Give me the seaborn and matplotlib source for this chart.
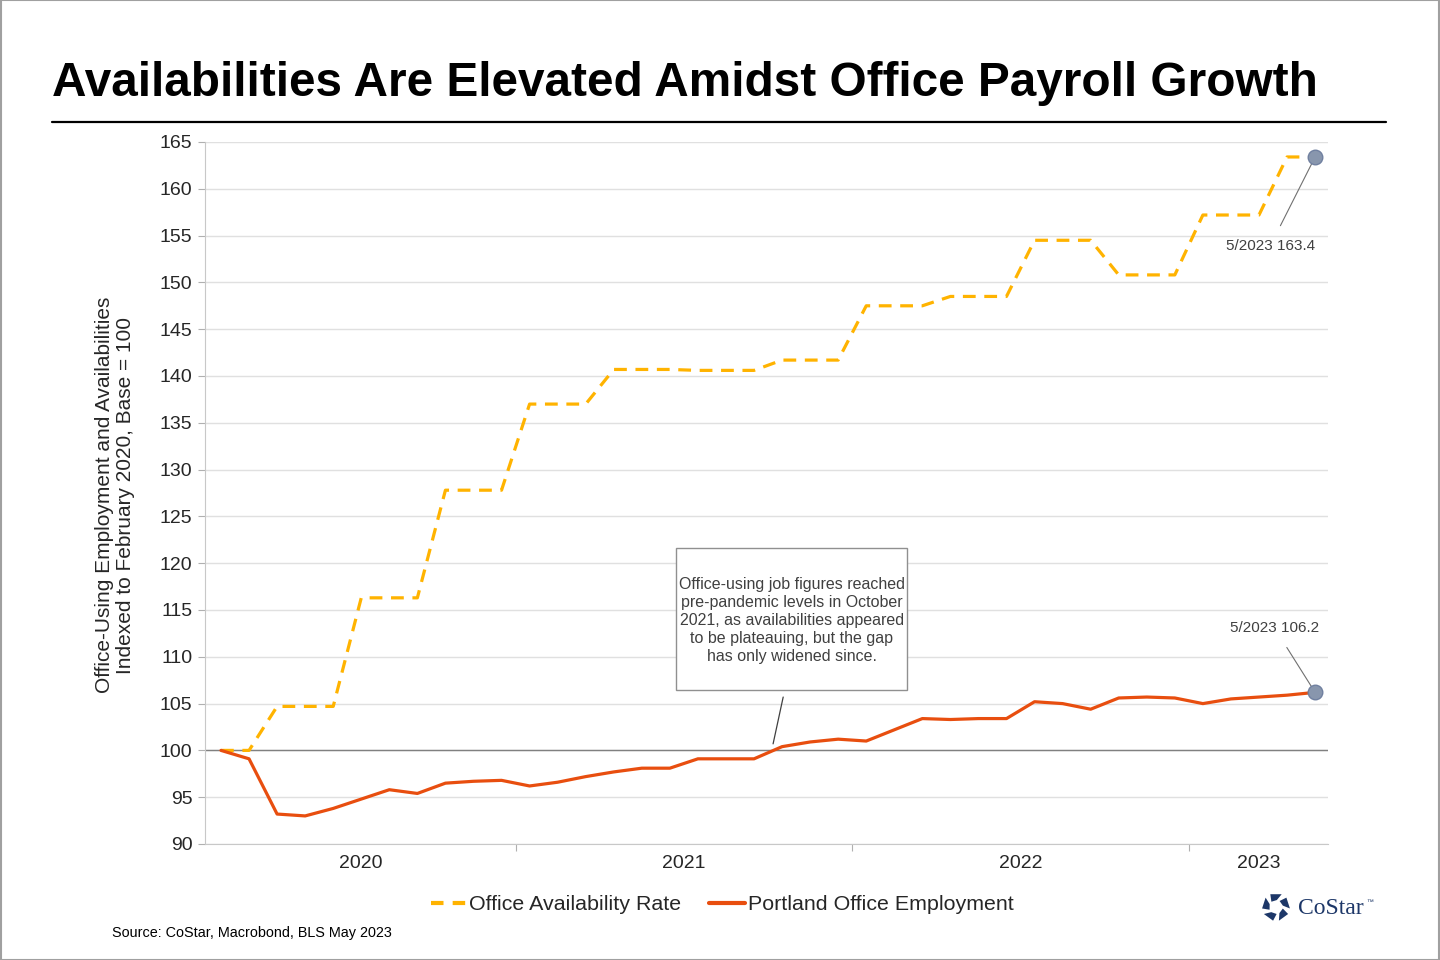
import numpy as np
import pandas as pd
import matplotlib
matplotlib.use("Agg")
import matplotlib.pyplot as plt
import seaborn as sns
from matplotlib.lines import Line2D
from matplotlib.patches import Polygon, Rectangle

sns.set_style('white')
plt.rcParams['font.family'] = ['Liberation Sans', 'DejaVu Sans']

# monthly data, Feb 2020 - May 2023 (index, Feb 2020 = 100)
months = pd.date_range('2020-02-01', '2023-05-01', freq='MS')
availability = [100.0, 100.0, 104.7, 104.7, 104.7, 116.3, 116.3, 116.3, 127.8, 127.8,
                127.8, 137.0, 137.0, 137.0, 140.7, 140.7, 140.7, 140.6, 140.6, 140.6,
                141.7, 141.7, 141.7, 147.5, 147.5, 147.5, 148.5, 148.5, 148.5, 154.5,
                154.5, 154.5, 150.8, 150.8, 150.8, 157.2, 157.2, 157.2, 163.4, 163.4]
employment = [100.0, 99.1, 93.2, 93.0, 93.8, 94.8, 95.8, 95.4, 96.5, 96.7,
              96.8, 96.2, 96.6, 97.2, 97.7, 98.1, 98.1, 99.1, 99.1, 99.1,
              100.4, 100.9, 101.2, 101.0, 102.2, 103.4, 103.3, 103.4, 103.4, 105.2,
              105.0, 104.4, 105.6, 105.7, 105.6, 105.0, 105.5, 105.7, 105.9, 106.2]
series_names = ['Office Availability Rate', 'Portland Office Employment']
series_colors = ['#FFB300', '#E84E0F']
year_labels = ['2020', '2021', '2022', '2023']

x = np.arange(len(months))
df = pd.concat([
    pd.DataFrame({'idx': x, 'value': availability, 'series': series_names[0]}),
    pd.DataFrame({'idx': x, 'value': employment, 'series': series_names[1]}),
])

fig = plt.figure(figsize=(14.4, 9.6), dpi=100)
fig.patches.append(plt.Rectangle((0.0005, 0.0005), 0.999, 0.999, transform=fig.transFigure,
                                 fill=False, edgecolor='#a0a0a0', linewidth=1.5))

# title + rule
fig.text(52 / 1440, 1 - 84 / 960, 'Availabilities Are Elevated Amidst Office Payroll Growth',
         fontsize=34.4, fontweight='bold', ha='left', va='center', color='black')
fig.add_artist(Line2D([52 / 1440, 1386 / 1440], [1 - 122 / 960] * 2,
                      color='black', linewidth=1.6, transform=fig.transFigure))

ax = fig.add_axes([205 / 1440, 1 - 844 / 960, (1328 - 205) / 1440, (844 - 142) / 960])

sns.lineplot(data=df, x='idx', y='value', hue='series', style='series',
             palette=dict(zip(series_names, series_colors)),
             dashes={series_names[0]: (4, 2.7), series_names[1]: ''},
             linewidth=2.3, legend=False, ax=ax, zorder=3)

ax.set_xlim(-0.57, 39.46)
ax.set_ylim(90, 165)
ax.set_yticks(np.arange(90, 166, 5))
ax.tick_params(axis='y', labelsize=14, length=5, color='#b0b0b0', pad=4, left=True)
ax.yaxis.grid(True, color='#e0e0e0', linewidth=1)
ax.axhline(100, color='#808080', linewidth=1, zorder=2)

# year boundary ticks, labels centred on each year
ax.set_xticks([10.5, 22.5, 34.5])
ax.set_xticklabels([])
ax.set_xticks([4.97, 16.5, 28.5, 36.98], minor=True)
ax.set_xticklabels(year_labels, minor=True)
ax.tick_params(axis='x', which='major', length=5, color='#b0b0b0', bottom=True)
ax.tick_params(axis='x', which='minor', length=0, labelsize=14, pad=8)
ax.set_xlabel('')
ax.set_ylabel('')
fig.text(115 / 1440, 1 - 495 / 960,
         'Office-Using Employment and Availabilities\nIndexed to February 2020, Base = 100',
         fontsize=15, rotation=90, ha='center', va='center', linespacing=1.1)
for side in ['top', 'right']:
    ax.spines[side].set_visible(False)
for side in ['left', 'bottom']:
    ax.spines[side].set_color('#c8c8c8')

# end-point markers and labels
last = len(months) - 1
for vals, txt_xy in [(availability, (37.4, 153.9)), (employment, (37.55, 113.1))]:
    ax.scatter([last], [vals[-1]], s=110, color='#8896ad', zorder=5, edgecolor='#7080a0')
    ax.annotate('5/2023 %.1f' % vals[-1], xy=(last, vals[-1]), xytext=txt_xy,
                fontsize=11, color='#404040', ha='center', va='center',
                arrowprops=dict(arrowstyle='-', color='#707070', linewidth=0.8,
                                shrinkA=8, shrinkB=4))

# callout box
ax.add_patch(Rectangle((16.22, 106.45), 24.46 - 16.22, 121.62 - 106.45,
                       facecolor='white', edgecolor='#909090', linewidth=1, zorder=6))
ax.text(20.34, 113.93,
        'Office-using job figures reached\npre-pandemic levels in October\n'
        '2021, as availabilities appeared\nto be plateauing, but the gap\nhas only widened since.',
        fontsize=11.5, color='#404040', ha='center', va='center', linespacing=1.25, zorder=7)
ax.plot([20.04, 19.68], [105.7, 100.7], color='#404040', linewidth=0.9, zorder=6)

# legend
handles = [Line2D([], [], color=series_colors[0], linewidth=3, dashes=(3, 2.2)),
           Line2D([], [], color=series_colors[1], linewidth=3)]
fig.legend(handles, series_names, loc='center', bbox_to_anchor=(722 / 1440, 1 - 905 / 960),
           ncol=2, frameon=False, fontsize=15.4, handlelength=1.7, handletextpad=0.1,
           columnspacing=1.3)

fig.text(112 / 1440, 1 - 933 / 960, 'Source: CoStar, Macrobond, BLS May 2023',
         fontsize=10.4, ha='left', va='center', color='black')

# simple CoStar mark
cx, cy, r = 1276, 907, 14
for k in range(5):
    a0 = np.deg2rad(90 + k * 72 - 24)
    a1 = np.deg2rad(90 + k * 72 + 24)
    pts = [(cx + r * np.cos(a0), cy - r * np.sin(a0)),
           (cx + r * np.cos(a1), cy - r * np.sin(a1)),
           (cx + 0.5 * r * np.cos(a1 + 0.3), cy - 0.5 * r * np.sin(a1 + 0.3)),
           (cx + 0.5 * r * np.cos(a0 + 0.3), cy - 0.5 * r * np.sin(a0 + 0.3))]
    pts = [(px / 1440, 1 - py / 960) for px, py in pts]
    fig.patches.append(Polygon(pts, closed=True, transform=fig.transFigure,
                               facecolor='#1d3768', edgecolor='none'))
fig.text(1298 / 1440, 1 - 908 / 960, 'CoStar', fontsize=17, family='Liberation Serif',
         color='#1d3768', ha='left', va='center')
fig.text(1366 / 1440, 1 - 902 / 960, '\u2122', fontsize=5, color='#1d3768', ha='left', va='center')

fig.savefig('out.png', dpi=100)
